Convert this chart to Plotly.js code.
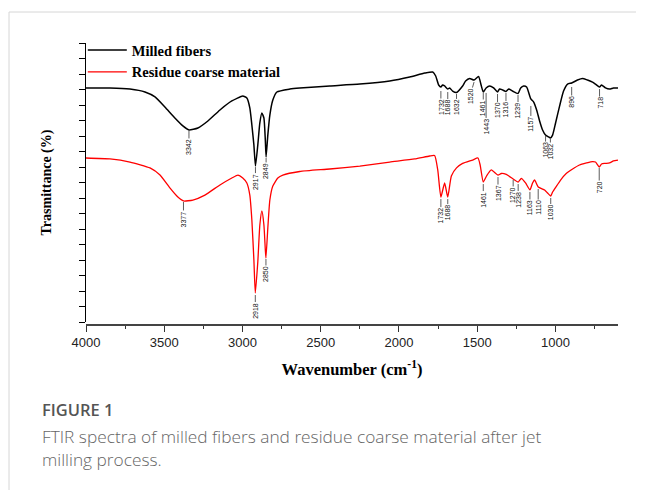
<!DOCTYPE html>
<html><head><meta charset="utf-8">
<script src="https://cdn.plot.ly/plotly-3.0.1.min.js"></script>
<style>html,body{margin:0;padding:0;background:#fff}#chart{width:646px;height:490px}</style>
</head><body><div id="chart"></div>
<script>
// ---- data (wavenumber in cm-1, transmittance in arbitrary offset units) ----
const milledWavenumber = [4000,3847,3719,3623,3559,3496,3432,3381,3342,3285,3221,3144,3068,2998,2972,2953,2940,2927,2917,2902,2889,2876,2863,2854,2849,2838,2825,2806,2780,2697,2634,2442,2250,2059,1931,1835,1784,1765,1746,1732,1721,1708,1688,1676,1657,1632,1593,1574,1548,1520,1491,1475,1461,1443,1420,1395,1370,1357,1337,1316,1299,1274,1239,1222,1203,1184,1157,1139,1120,1101,1082,1063,1044,1032,1018,999,973,948,922,896,859,827,795,763,744,718,705,680,654,629,600];
const milledT = [15.10,15.10,15.03,14.84,14.52,13.87,13.16,12.65,12.39,12.52,12.97,13.68,14.26,14.58,14.45,13.81,12.71,11.42,10.06,11.42,12.84,13.48,13.16,11.74,10.65,12.06,13.35,14.32,14.84,15.03,15.10,15.23,15.35,15.55,15.81,16.06,16.13,15.87,15.29,15.16,15.29,15.23,15.03,15.10,14.90,14.81,15.23,15.55,15.71,15.61,15.84,15.29,14.84,15.10,15.23,15.10,14.84,15.03,14.97,14.87,15.03,14.90,14.74,15.10,15.23,15.16,14.39,14.19,13.68,12.97,12.39,12.06,11.94,11.87,12.06,12.84,13.94,14.90,15.35,15.42,15.61,15.71,15.61,15.48,15.35,15.16,15.29,15.10,15.03,15.10,15.10];

const residueWavenumber = [4000,3847,3719,3591,3527,3464,3413,3377,3317,3240,3144,3068,3029,2998,2972,2953,2940,2927,2918,2902,2889,2876,2863,2854,2850,2838,2825,2806,2774,2742,2634,2442,2250,2059,1899,1804,1772,1752,1732,1708,1688,1665,1632,1593,1529,1495,1481,1461,1440,1410,1367,1346,1314,1270,1238,1218,1191,1163,1146,1133,1110,1069,1050,1030,1018,995,967,931,890,846,801,763,744,720,705,686,654,629,600];
const residueT = [10.58,10.52,10.32,9.94,9.48,8.65,8.06,7.81,7.87,8.19,8.84,9.29,9.48,9.29,8.97,8.19,6.58,4.00,1.87,3.87,6.26,7.16,6.26,4.65,4.13,6.06,7.87,8.77,9.29,9.48,9.71,9.87,10.06,10.32,10.52,10.71,10.74,9.81,8.06,8.97,8.06,9.42,9.94,10.23,10.45,10.58,10.13,9.03,9.42,9.81,9.48,9.58,9.52,9.23,9.03,9.26,8.97,8.52,8.97,9.16,8.71,8.52,8.32,8.13,8.39,8.74,9.16,9.58,9.87,10.13,10.26,10.35,10.32,10.00,10.19,10.23,10.26,10.39,10.45];

const milledPeaks = [3342,2917,2849,1732,1688,1632,1520,1461,1443,1370,1316,1239,1157,1063,1032,896,718];
const residuePeaks = [3377,2918,2850,1732,1688,1461,1367,1270,1238,1163,1110,1030,720];

const xTickStart = 4000, xTickStep = 500;

// ---- label layout (gap below curve, tail length, px) ----
const milledLabelGap  = [1,1,1,4,3,1.5,2,1,5,2,1.5,1.5,7,1,1,4,2];
const milledLabelTail = [16,14.5,13,16,15.5,13.5,14,15,33.5,16.5,16.5,15.5,18,14,12,15,14];
const milledLabelAx   = [0,0,0,0,0,0,-4,0,0,0,0,0,0,0,0,0,0];
const residueLabelGap  = [1,2,1,2,2,2,2,1,2,2,2,2,1];
const residueLabelTail = [17,15.5,15,16.5,13.5,15.5,16,15,15.5,15.5,18.5,14.5,19];

const Y_RANGE = [0,18];
const unitsPerPx = (Y_RANGE[1]-Y_RANGE[0]) / 279;

function interp(xs, ys, x){
  for (let i=0;i<xs.length-1;i++){
    const a=xs[i], b=xs[i+1];
    if ((x<=a && x>=b) || (x>=a && x<=b)){
      const t = (x-a)/(b-a);
      return ys[i] + t*(ys[i+1]-ys[i]);
    }
  }
  return ys[ys.length-1];
}

function makeLabels(peaks, xs, ys, gaps, tails, axs){
  return peaks.map((p,i)=>({
    x: p, y: interp(xs, ys, p) - gaps[i]*unitsPerPx,
    xref:'x', yref:'y',
    text: String(p), textangle: -90,
    showarrow: true, arrowhead: 0, arrowwidth: 0.8, arrowcolor: '#333',
    ax: axs ? axs[i] : 0, ay: tails[i], standoff: 0, borderpad: 0,
    font: {family: 'Liberation Sans, Arial, sans-serif', size: 7, color: '#111'}
  }));
}

const traces = [
  {x: milledWavenumber, y: milledT, type:'scatter', mode:'lines',
   name: '<b>Milled fibers</b>', line:{color:'#000', width:1.5, shape:'spline', smoothing:0.5}},
  {x: residueWavenumber, y: residueT, type:'scatter', mode:'lines',
   name: '<b>Residue coarse material</b>', line:{color:'#ff0000', width:1.3, shape:'spline', smoothing:0.5}}
];

const serif = 'Liberation Serif, Times New Roman, serif';
const capFont = 'Open Sans, Noto Sans, sans-serif';

const annotations = []
  .concat(makeLabels(milledPeaks, milledWavenumber, milledT, milledLabelGap, milledLabelTail, milledLabelAx))
  .concat(makeLabels(residuePeaks, residueWavenumber, residueT, residueLabelGap, residueLabelTail, null))
  .concat([
    {xref:'paper', yref:'paper', x:-0.0865, y:-0.306, xanchor:'left', yanchor:'middle', showarrow:false,
     text:'FIGURE 1', font:{family:capFont, size:16.5, color:'#555', weight:600}},
    {xref:'paper', yref:'paper', x:-0.0865, y:-0.402, xanchor:'left', yanchor:'middle', showarrow:false, align:'left',
     text:'FTIR spectra of milled fibers and residue coarse material after jet', font:{family:capFont, size:17.3, color:'#666', weight:300}},
    {xref:'paper', yref:'paper', x:-0.0865, y:-0.482, xanchor:'left', yanchor:'middle', showarrow:false, align:'left',
     text:'milling process.', font:{family:capFont, size:17.3, color:'#666', weight:300}}
  ]);

const layout = {
  width: 646, height: 490,
  margin: {l:86, r:28, t:43, b:166, pad:0},
  paper_bgcolor:'#fff', plot_bgcolor:'#fff',
  showlegend: true,
  legend: {x:-0.006, y:1.032, xanchor:'left', yanchor:'top', bgcolor:'rgba(0,0,0,0)',
           itemwidth: 39, font:{family: serif, size:14.5, color:'#000'}, tracegroupgap:0},
  xaxis: {range:[4000,600], tick0:xTickStart, dtick:xTickStep, ticks:'outside', ticklen:6, tickwidth:1, tickcolor:'#333',
          showline:true, linecolor:'#444', linewidth:1.5, showgrid:false, zeroline:false,
          anchor:'free', position:0,
          tickfont:{family:'Liberation Sans, Arial, sans-serif', size:13, color:'#222'},
          minor:{dtick:250, ticks:'outside', ticklen:3, tickcolor:'#333', showgrid:false},
          title:{text:'Wavenumber (cm<sup>-1</sup>)', standoff:14, font:{family:serif, size:16.5, color:'#000', weight:'bold'}}},
  yaxis: {range:Y_RANGE, domain:[0.0071,1], tick0:0, dtick:1, ticks:'outside', ticklen:6, tickcolor:'#000',
          showticklabels:false, showline:true, linecolor:'#000', linewidth:1, showgrid:false, zeroline:false,
          title:{text:'Trasmittance (%)', standoff:24, font:{family:serif, size:14, color:'#000', weight:'bold'}}},
  annotations: annotations,
  shapes: [
    {type:'line', xref:'paper', yref:'paper', x0:-0.1447, x1:1.0338, y0:1.1103, y1:1.1103, line:{color:'#d6d6d6', width:1}},
    {type:'line', xref:'paper', yref:'paper', x0:-0.1447, x1:-0.1447, y0:1.1103, y1:-0.6, line:{color:'#d6d6d6', width:1}}
  ]
};

Plotly.newPlot('chart', traces, layout, {displayModeBar:false, staticPlot:true});
</script></body></html>
